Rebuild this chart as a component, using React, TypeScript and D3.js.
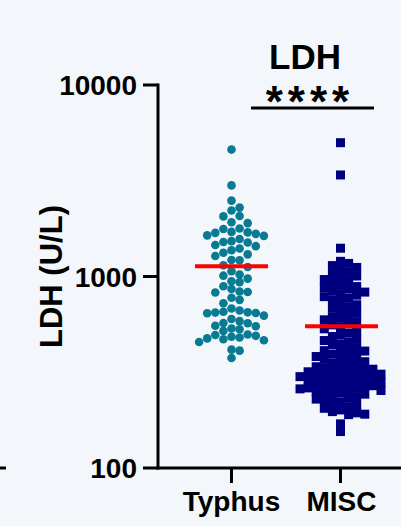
import React from "react";
import * as d3 from "d3";

const groups = ["Typhus", "MISC"];
const yTicks = [100, 1000, 10000];
const chartTitle = "LDH";
const sigLabel = "****";
const yAxisLabel = "LDH (U/L)";

const typhusLDH = [
  4600, 2990, 2490, 2290, 2210, 2070, 2060, 1920, 1900, 1780,
  1770, 1710, 1700, 1690, 1670, 1640, 1630, 1570, 1530, 1515,
  1505, 1460, 1440, 1400, 1370, 1330, 1305, 1280, 1220, 1215,
  1145, 1120, 1065, 1025, 1010, 975, 945, 935, 890, 860,
  835, 830, 825, 775, 755, 725, 680, 665, 655, 650,
  648, 645, 643, 625, 600, 585, 570, 572, 550, 553,
  535, 530, 520, 495, 498, 490, 485, 480, 475, 470,
  465, 455, 415, 410, 375,
];

const miscLDH = [
  4997, 3390, 1405,
  1200, 1170, 1140, 1115, 1090, 1050,
  1024, 1006, 994, 964, 947, 930, 902, 886, 875, 860, 844, 829, 814, 799, 785,
  771, 757, 739, 712, 695, 683, 671, 643, 631, 616, 605, 594, 580, 569, 559,
  546, 533, 520, 507, 495, 486, 470, 463, 455, 444, 440, 425, 415, 410, 408, 401,
  393, 386, 382, 375, 370, 364, 359, 353, 348, 342, 338,
  334, 331, 328, 325, 321, 318, 315, 312, 309, 306, 303, 300, 300, 297, 294, 291,
  288, 286, 283, 280, 277, 275, 272, 269, 267, 264, 262, 261, 259, 256, 254, 251,
  249, 246, 243, 239, 236, 232, 229, 226,
  221, 217, 213, 209, 205, 201, 197, 194,
  191, 190, 170, 155,
];

const W = 401;
const H = 526;
const FONT = "'Liberation Sans', Arial, sans-serif";

type Pt = { v: number; x: number; y: number };

function swarm(values: number[], y: (v: number) => number, cx: number, step: number, gap: number): Pt[] {
  const pts = values.map((v) => ({ v, x: cx, y: y(v) })).sort((a, b) => a.y - b.y);
  const cols = new Map<number, number[]>();
  const order: number[] = [0];
  for (let k = 1; k < 20; k++) order.push(k, -k);
  for (const p of pts) {
    for (const k of order) {
      const ys = cols.get(k) || [];
      if (ys.every((yy) => Math.abs(yy - p.y) >= gap)) {
        ys.push(p.y);
        cols.set(k, ys);
        p.x = cx + k * step;
        break;
      }
    }
  }
  return pts;
}

export default function App() {
  const yScale = d3.scaleLog().domain([100, 10000]).range([468, 85]);
  const xScale = d3.scalePoint<string>().domain(groups).range([231.5, 340.5]);
  const axisX0 = 158;
  const step = 8.1;
  const gap = 7.6;

  const tPts = swarm(typhusLDH, yScale, xScale("Typhus")!, step, gap);
  const mPts = swarm(miscLDH, yScale, xScale("MISC")!, step, gap);
  const tMean = d3.mean(typhusLDH)!;
  const mMean = d3.mean(miscLDH)!;
  const half = 36.5;
  const sq = 9;

  return (
    <svg width={W} height={H} style={{ position: "absolute", left: 0, top: 0, display: "block" }}>
      <rect x={0} y={0} width={W} height={H} fill="#f3f6fa" />
      {/* stray tick of neighbouring panel */}
      <line x1={0} x2={6} y1={468} y2={468} stroke="#000" strokeWidth={3} />

      {/* title */}
      <text x={305} y={69} textAnchor="middle" fontFamily={FONT} fontWeight="bold" fontSize={35} fill="#000">
        {chartTitle}
      </text>
      <text x={310} y={117} textAnchor="middle" fontFamily={FONT} fontWeight="bold" fontSize={44} letterSpacing={5} fill="#000">
        {sigLabel}
      </text>
      <line x1={251} x2={374} y1={108} y2={108} stroke="#000" strokeWidth={3} />

      {/* y axis */}
      <line x1={axisX0} x2={axisX0} y1={yScale(10000) - 1.5} y2={yScale(100) + 1.5} stroke="#000" strokeWidth={3} />
      {yTicks.map((t) => (
        <g key={t}>
          <line x1={143} x2={axisX0} y1={yScale(t)} y2={yScale(t)} stroke="#000" strokeWidth={3} />
          <text x={137} y={yScale(t)} dy="0.36em" textAnchor="end" fontFamily={FONT} fontWeight="bold" fontSize={28} fill="#000">
            {t}
          </text>
        </g>
      ))}
      <text
        transform={`translate(62, ${(yScale(100) + yScale(10000)) / 2}) rotate(-90)`}
        textAnchor="middle"
        fontFamily={FONT}
        fontWeight="bold"
        fontSize={31}
        fill="#000"
      >
        {yAxisLabel}
      </text>

      {/* x axis */}
      <line x1={axisX0 - 1.5} x2={W} y1={yScale(100)} y2={yScale(100)} stroke="#000" strokeWidth={3} />
      {groups.map((g) => (
        <g key={g}>
          <line x1={xScale(g)!} x2={xScale(g)!} y1={yScale(100)} y2={yScale(100) + 15} stroke="#000" strokeWidth={3} />
          <text x={xScale(g)! + (g === "MISC" ? 1 : 0)} y={511} textAnchor="middle" fontFamily={FONT} fontWeight="bold" fontSize={28} fill="#000">
            {g}
          </text>
        </g>
      ))}

      {/* points */}
      {tPts.map((p, i) => (
        <circle key={"t" + i} cx={p.x} cy={p.y} r={4.3} fill="#087b93" />
      ))}
      {mPts.map((p, i) => (
        <rect key={"m" + i} x={p.x - sq / 2} y={p.y - sq / 2} width={sq} height={sq} fill="#00007f" />
      ))}

      {/* mean lines */}
      <line x1={xScale("Typhus")! - half} x2={xScale("Typhus")! + half} y1={yScale(tMean)} y2={yScale(tMean)} stroke="#ff0000" strokeWidth={4} />
      <line x1={xScale("MISC")! - half + 1} x2={xScale("MISC")! + half + 1} y1={yScale(mMean)} y2={yScale(mMean)} stroke="#ff0000" strokeWidth={4} />
    </svg>
  );
}
